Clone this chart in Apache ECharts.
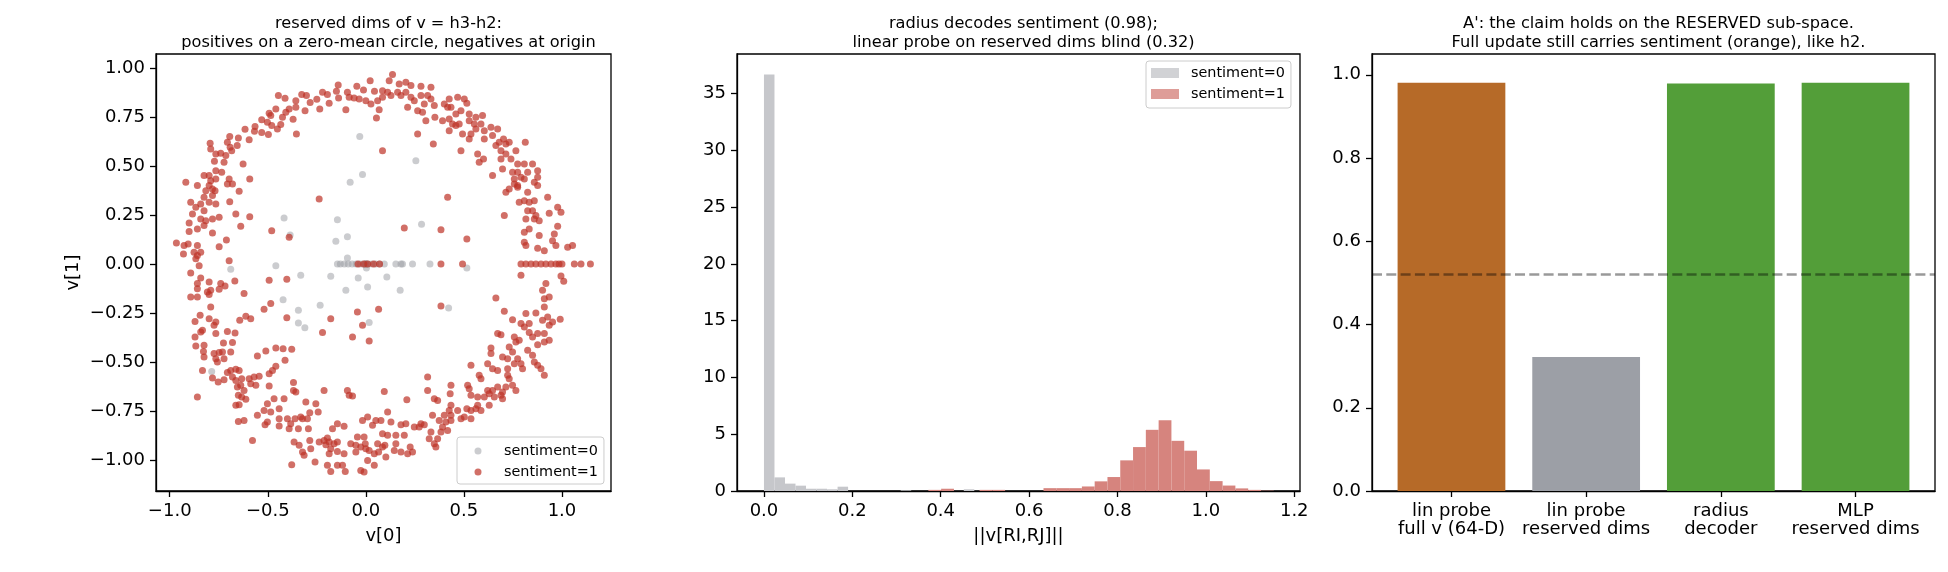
<!DOCTYPE html>
<html>
<head>
<meta charset="utf-8">
<title>reserved dims</title>
<script src="https://cdn.jsdelivr.net/npm/echarts@6.0.0/dist/echarts.min.js"></script>
<style>
  html, body { margin: 0; padding: 0; background: #fff; }
  #chart { width: 1948px; height: 572px; }
</style>
</head>
<body>
<div id="chart"></div>
<script>
// ---- panel 1: scatter of the two reserved dims ----
const posUpperLeft = [
  [-0.446,0.859],[-0.412,0.845],[-0.327,0.864],[-0.303,0.859],[-0.357,0.833],[-0.284,0.823],[-0.25,0.84],[-0.221,0.876],
  [-0.196,0.864],[-0.187,0.82],[-0.141,0.913],[-0.15,0.881],[-0.139,0.847],[-0.094,0.876],[-0.085,0.85],[-0.046,0.906],
  [-0.012,0.888],[0.022,0.935],[0.044,0.881],[-0.034,0.842],[0,0.833],[0.026,0.816],[0.06,0.833],[0.085,0.85],
  [-0.102,0.787],[0.054,0.745],[0.068,0.786],[-0.06,0.847],[-0.235,0.791],[-0.31,0.782],[-0.357,0.799],[-0.391,0.791],
  [-0.408,0.774],[-0.459,0.791],[-0.493,0.769],[-0.485,0.757],[-0.425,0.748],[-0.371,0.738],[-0.531,0.735],[-0.502,0.723],
  [-0.48,0.706],[-0.434,0.711],[-0.451,0.689],[-0.565,0.701],[-0.568,0.677],[-0.531,0.67],[-0.497,0.66],[-0.616,0.687],
  [-0.595,0.633],[-0.65,0.643],[-0.656,0.604],[-0.694,0.65],[-0.706,0.621],[-0.692,0.595],[-0.684,0.578],[-0.714,0.553],
  [-0.74,0.565],[-0.765,0.561],[-0.794,0.616],[-0.791,0.587],[-0.772,0.524],[-0.723,0.519],[-0.626,0.51],[-0.354,0.663],
  [-0.735,0.468],[-0.765,0.476],[-0.799,0.451],[-0.825,0.451],[-0.791,0.425],[-0.765,0.434],[-0.697,0.434],[-0.706,0.408],
  [-0.68,0.408],[-0.592,0.434],[-0.646,0.371],[-0.918,0.417],[-0.859,0.4],[-0.799,0.4],[-0.816,0.374],[-0.782,0.383],
  [-0.769,0.374],[-0.825,0.34],[-0.782,0.349],[-0.893,0.315],[-0.867,0.289],[-0.842,0.306],[-0.799,0.315],[-0.765,0.306],
  [-0.825,0.272],[-0.884,0.255],[-0.842,0.23],[-0.782,0.23],[-0.748,0.238],[-0.901,0.209],[-0.859,0.179],[-0.825,0.196],
  [-0.816,0.221],[-0.782,0.158],[-0.694,0.318],[-0.663,0.255],[-0.638,0.192],[-0.592,0.241],[-0.901,0.165],[-0.966,0.107],
  [-0.927,0.094],[-0.906,0.102],[-0.859,0.094],[-0.93,0.051],[-0.876,0.06],[-0.859,0.043],[-0.842,0.06],[-0.867,0.026],
  [-0.85,-0.009],[-0.748,0.088],[-0.711,0.122],[-0.697,0.017],[-0.48,0.17],[-0.391,0.136],[-0.238,0.332],[0.085,0.578]
];
const posUpperRight = [
  [0.136,0.966],[0.119,0.935],[0.17,0.918],[0.204,0.927],[0.23,0.91],[0.281,0.906],[0.332,0.901],[0.085,0.884],
  [0.111,0.876],[0.128,0.859],[0.162,0.876],[0.179,0.859],[0.204,0.876],[0.23,0.85],[0.247,0.833],[0.213,0.799],
  [0.264,0.782],[0.289,0.774],[0.281,0.859],[0.315,0.859],[0.332,0.842],[0.349,0.808],[0.298,0.816],[0.4,0.816],
  [0.425,0.842],[0.468,0.85],[0.502,0.842],[0.515,0.82],[0.417,0.799],[0.434,0.799],[0.485,0.782],[0.459,0.765],
  [0.352,0.748],[0.391,0.731],[0.306,0.731],[0.425,0.74],[0.442,0.714],[0.476,0.714],[0.527,0.765],[0.561,0.748],
  [0.587,0.714],[0.595,0.757],[0.527,0.731],[0.553,0.714],[0.425,0.68],[0.459,0.706],[0.493,0.663],[0.536,0.663],
  [0.527,0.638],[0.561,0.689],[0.604,0.68],[0.638,0.697],[0.672,0.689],[0.604,0.638],[0.264,0.663],[0.344,0.612],
  [0.485,0.578],[0.646,0.655],[0.68,0.621],[0.702,0.638],[0.714,0.612],[0.731,0.621],[0.663,0.604],[0.689,0.578],
  [0.714,0.561],[0.765,0.578],[0.57,0.561],[0.6,0.536],[0.578,0.519],[0.689,0.536],[0.74,0.536],[0.774,0.51],
  [0.808,0.51],[0.85,0.51],[0.697,0.485],[0.646,0.451],[0.748,0.468],[0.774,0.468],[0.825,0.468],[0.876,0.476],
  [0.876,0.442],[0.757,0.434],[0.791,0.442],[0.808,0.434],[0.859,0.417],[0.876,0.4],[0.757,0.408],[0.774,0.4],
  [0.731,0.383],[0.714,0.366],[0.774,0.391],[0.825,0.366],[0.808,0.323],[0.782,0.315],[0.833,0.315],[0.859,0.323],
  [0.927,0.34],[0.825,0.272],[0.85,0.272],[0.867,0.247],[0.884,0.221],[0.859,0.23],[0.935,0.259],[0.978,0.289],
  [0.995,0.264],[0.816,0.23],[0.808,0.162],[0.833,0.179],[0.884,0.145],[0.978,0.192],[0.961,0.153],[0.952,0.119],
  [0.969,0.094],[1.029,0.085],[1.054,0.094],[0.808,0.111],[0.816,0.094],[0.876,0.08],[0.91,0.068],[0.706,0.247],
  [0.417,0.34],[0.196,0.184],[0.383,0.175],[0.515,0.128],[0.813,0.621]
];
const posLowerLeft = [
  [-0.893,-0.046],[-0.842,-0.071],[-0.859,-0.1],[-0.799,-0.092],[-0.74,-0.1],[-0.718,-0.112],[-0.668,-0.087],[-0.859,-0.126],
  [-0.893,-0.168],[-0.859,-0.168],[-0.808,-0.143],[-0.791,-0.134],[-0.799,-0.156],[-0.748,-0.129],[-0.621,-0.151],[-0.493,-0.083],
  [-0.403,-0.078],[-0.791,-0.219],[-0.845,-0.262],[-0.871,-0.293],[-0.799,-0.279],[-0.765,-0.296],[-0.774,-0.313],[-0.833,-0.338],
  [-0.842,-0.347],[-0.765,-0.355],[-0.706,-0.344],[-0.667,-0.352],[-0.871,-0.372],[-0.825,-0.415],[-0.726,-0.403],[-0.68,-0.401],
  [-0.867,-0.418],[-0.828,-0.446],[-0.825,-0.474],[-0.774,-0.457],[-0.748,-0.452],[-0.731,-0.449],[-0.689,-0.449],[-0.765,-0.483],
  [-0.757,-0.5],[-0.723,-0.483],[-0.643,-0.287],[-0.612,-0.267],[-0.587,-0.279],[-0.485,-0.202],[-0.519,-0.231],[-0.403,-0.274],
  [-0.553,-0.469],[-0.51,-0.444],[-0.459,-0.429],[-0.422,-0.432],[-0.378,-0.435],[-0.412,-0.491],[-0.833,-0.543],[-0.782,-0.582],
  [-0.753,-0.602],[-0.723,-0.59],[-0.706,-0.554],[-0.689,-0.543],[-0.663,-0.537],[-0.646,-0.543],[-0.68,-0.577],[-0.663,-0.594],
  [-0.633,-0.585],[-0.595,-0.585],[-0.57,-0.577],[-0.544,-0.573],[-0.493,-0.56],[-0.476,-0.543],[-0.459,-0.522],[-0.655,-0.628],
  [-0.638,-0.619],[-0.621,-0.645],[-0.65,-0.67],[-0.633,-0.679],[-0.612,-0.69],[-0.663,-0.721],[-0.646,-0.718],[-0.587,-0.611],
  [-0.561,-0.619],[-0.493,-0.622],[-0.859,-0.679],[-0.369,-0.605],[-0.369,-0.645],[-0.357,-0.653],[-0.468,-0.687],[-0.417,-0.687],
  [-0.502,-0.713],[-0.519,-0.747],[-0.485,-0.755],[-0.442,-0.738],[-0.553,-0.772],[-0.65,-0.803],[-0.621,-0.798],[-0.578,-0.9],
  [-0.514,-0.82],[-0.502,-0.806],[-0.442,-0.789],[-0.442,-0.827],[-0.4,-0.789],[-0.391,-0.84],[-0.383,-0.815],[-0.361,-0.789],
  [-0.332,-0.781],[-0.323,-0.789],[-0.306,-0.704],[-0.286,-0.759],[-0.255,-0.713],[-0.243,-0.755],[-0.298,-0.789],[-0.344,-0.84],
  [-0.293,-0.84],[-0.213,-0.645],[-0.094,-0.645],[-0.085,-0.67],[-0.068,-0.673],[-0.145,-0.815],[-0.111,-0.828],[-0.17,-0.84],
  [-0.366,-0.908],[-0.34,-0.925],[-0.323,-0.959],[-0.315,-0.976],[-0.281,-0.942],[-0.259,-1.01],[-0.286,-0.9],[-0.238,-0.908],
  [-0.213,-0.9],[-0.204,-0.922],[-0.196,-0.888],[-0.187,-0.908],[-0.179,-0.942],[-0.162,-0.917],[-0.145,-0.908],[-0.187,-0.968],
  [-0.145,-0.956],[-0.145,-1.027],[-0.196,-1.027],[-0.179,-1.058],[-0.119,-1.027],[-0.105,-1.058],[-0.111,-0.968],[-0.077,-0.917],
  [-0.051,-0.925],[-0.043,-0.883],[-0.009,-0.883],[-0.017,-0.798],[0.009,-0.781],[0.034,-0.823],[0.051,-0.798],[0.077,-0.798],
  [0.085,-0.866],[-0.003,-0.917],[-0.026,-0.934],[0,-0.942],[0.017,-0.951],[0.043,-0.968],[0.06,-0.917],[0.085,-0.934],
  [0.065,-0.959],[-0.051,-0.959],[0.009,-1.002],[0.043,-1.027],[-0.026,-1.053],[-0.009,-1.061],[-0.378,-1.024],[0.094,-0.65],
  [-0.043,-0.245],[-0.017,-0.313],[0.017,-0.393],[-0.068,-0.372],[-0.179,-0.279],[-0.221,-0.35],[0.065,-0.231]
];
const posLowerRight = [
  [0.791,-0.058],[0.995,-0.061],[1.009,-0.088],[0.918,-0.1],[0.901,-0.134],[0.935,-0.168],[0.91,-0.177],[0.663,-0.173],
  [0.383,-0.214],[0.706,-0.241],[0.816,-0.253],[0.867,-0.25],[0.91,-0.219],[0.748,-0.284],[0.791,-0.304],[0.901,-0.287],
  [0.927,-0.27],[0.952,-0.296],[0.991,-0.282],[0.935,-0.313],[0.833,-0.304],[0.808,-0.321],[0.672,-0.355],[0.689,-0.361],
  [0.833,-0.35],[0.876,-0.355],[0.91,-0.355],[0.757,-0.372],[0.765,-0.398],[0.782,-0.389],[0.85,-0.372],[0.935,-0.389],
  [0.91,-0.398],[0.638,-0.429],[0.731,-0.423],[0.876,-0.412],[0.825,-0.44],[0.638,-0.457],[0.697,-0.474],[0.748,-0.449],
  [0.723,-0.483],[0.774,-0.483],[0.791,-0.509],[0.757,-0.509],[0.85,-0.466],[0.859,-0.5],[0.876,-0.517],[0.893,-0.534],
  [0.91,-0.568],[0.799,-0.534],[0.621,-0.509],[0.646,-0.534],[0.672,-0.543],[0.723,-0.534],[0.536,-0.517],[0.578,-0.568],
  [0.587,-0.585],[0.723,-0.568],[0.731,-0.585],[0.748,-0.619],[0.765,-0.645],[0.714,-0.628],[0.697,-0.653],[0.672,-0.628],
  [0.646,-0.645],[0.621,-0.645],[0.629,-0.662],[0.655,-0.679],[0.689,-0.67],[0.697,-0.687],[0.604,-0.679],[0.57,-0.679],
  [0.536,-0.67],[0.527,-0.636],[0.519,-0.619],[0.434,-0.619],[0.43,-0.662],[0.561,-0.738],[0.587,-0.747],[0.57,-0.721],
  [0.629,-0.721],[0.536,-0.747],[0.515,-0.738],[0.502,-0.781],[0.536,-0.789],[0.485,-0.789],[0.468,-0.747],[0.434,-0.721],
  [0.425,-0.747],[0.434,-0.772],[0.4,-0.772],[0.408,-0.806],[0.434,-0.798],[0.417,-0.849],[0.391,-0.832],[0.374,-0.798],
  [0.366,-0.696],[0.349,-0.687],[0.315,-0.577],[0.315,-0.645],[0.209,-0.692],[0.111,-0.755],[0.128,-0.806],[0.179,-0.82],
  [0.204,-0.815],[0.196,-0.874],[0.153,-0.874],[0.111,-0.874],[0.097,-0.925],[0.153,-0.917],[0.179,-0.959],[0.213,-0.968],
  [0.238,-0.959],[0.247,-0.832],[0.272,-0.832],[0.281,-0.815],[0.298,-0.82],[0.332,-0.857],[0.323,-0.891],[0.366,-0.891],
  [0.349,-0.917],[0.357,-0.934],[0.383,-0.857],[0.102,-0.985],[0.145,-0.951],[0.226,-0.934],[0.34,-0.772]
];
const posOnAxis = [
  [-0.04,0],[-0.01,0],[0.01,0],[0.04,0],[0.07,0],[0.383,0],[0.493,0],[0.791,0],[0.816,0],[0.842,0],[0.867,0],
  [0.893,0],[0.918,0],[0.944,0],[0.969,0],[0.985,0],[1.0,0],[1.063,0],[1.097,0],[1.145,0]
];
const negOffAxis = [
  [-0.031,0.65],[-0.08,0.417],[-0.017,0.456],[-0.417,0.235],[-0.145,0.226],[-0.094,0.139],[-0.153,0.116],[-0.386,0.148],
  [-0.459,-0.009],[-0.094,0.031],[0.255,0.526],[0.284,0.202],[-0.689,-0.027],[-0.332,-0.058],[-0.179,-0.063],[-0.039,-0.071],
  [0.009,-0.117],[-0.102,-0.134],[-0.422,-0.182],[-0.233,-0.211],[-0.344,-0.236],[-0.344,-0.301],[-0.311,-0.325],[0.017,-0.298],
  [-0.786,-0.548],[0.107,-0.066],[0.175,-0.134],[0.422,-0.224],[0.515,-0.02],[0.003,-0.02]
];
const negOnAxis = [
  [-0.145,0],[-0.13,0],[-0.11,0],[-0.09,0],[-0.07,0],[-0.05,0],[-0.03,0],[-0.015,0],[0,0],[0,0],[0,0],[0,0],
  [0.01,0],[0.03,0],[0.05,0],[0.07,0],[0.094,0],[0.153,0],[0.179,0],[0.187,0],[0.238,0],[0.327,0]
];
const scatterXTicks = [-1.0, -0.5, 0.0, 0.5, 1.0];
const scatterYTicks = [-1.0, -0.75, -0.5, -0.25, 0.0, 0.25, 0.5, 0.75, 1.0];

// ---- panel 2: density histograms of ||v[RI,RJ]|| ----
const grayBinStart = 0.0, grayBinWidth = 0.0238;
const grayDensity = [36.7, 1.2, 0.65, 0.47, 0.2, 0.2, 0.15, 0.38, 0, 0, 0, 0, 0, 0.06, 0, 0, 0, 0, 0, 0.15];
const redBinStart = 0.372, redBinWidth = 0.02895;
const redDensity = [0.1, 0.2, 0, 0, 0.1, 0.1, 0, 0, 0, 0.25, 0.25, 0.25, 0.4, 0.85, 1.23, 2.7, 3.87,
                    5.39, 6.23, 4.42, 3.55, 1.9, 0.87, 0.48, 0.23, 0.1, 0.03];
const histXTicks = [0.0, 0.2, 0.4, 0.6, 0.8, 1.0, 1.2];
const histYTicks = [0, 5, 10, 15, 20, 25, 30, 35];

// ---- panel 3: decoder accuracies ----
const barLabels = ['lin probe\nfull v (64-D)', 'lin probe\nreserved dims', 'radius\ndecoder', 'MLP\nreserved dims'];
const barValues = [0.981, 0.322, 0.979, 0.981];
const barColors = ['#b66a28', '#9c9fa6', '#539e39', '#539e39'];
const chanceLevel = 0.52;
const barYTicks = [0.0, 0.2, 0.4, 0.6, 0.8, 1.0];

const FONT = 'DejaVu Sans';
const redPt = 'rgba(190,50,38,0.88)';
const grayPt = 'rgba(155,157,163,0.65)';

function fmt(v, d) {
  const s = Math.abs(v).toFixed(d);
  return v < 0 ? '\u2212' + s : s;
}

function valueAxis(gridIndex, min, max, ticks, formatter, extra) {
  return Object.assign({
    gridIndex: gridIndex, type: 'value', min: min, max: max,
    axisLine: { show: true, onZero: false, lineStyle: { color: '#000', width: 1.3 } },
    axisTick: { show: true, length: 6, customValues: ticks, lineStyle: { color: '#000', width: 1.3 } },
    axisLabel: { customValues: ticks, formatter: formatter, margin: 11, fontSize: 18, color: '#000', fontFamily: FONT },
    splitLine: { show: false },
    nameTextStyle: { fontSize: 18, color: '#000', fontFamily: FONT }
  }, extra || {});
}

// histogram bins -> [left edge, right edge, density]
function bins(start, width, dens) {
  return dens.map((d, i) => [start + i * width, start + (i + 1) * width, d]);
}

function histRender(color) {
  return function (params, api) {
    const p0 = api.coord([api.value(0), api.value(2)]);
    const p1 = api.coord([api.value(1), 0]);
    return { type: 'rect', shape: { x: p0[0], y: p0[1], width: p1[0] - p0[0], height: p1[1] - p0[1] }, style: { fill: color } };
  };
}

const chart = echarts.init(document.getElementById('chart'));
const titleStyle = { fontSize: 16.2, fontWeight: 'normal', color: '#000', fontFamily: FONT, lineHeight: 19.5 };

chart.setOption({
  animation: false,
  backgroundColor: '#fff',
  textStyle: { fontFamily: FONT, color: '#000' },
  title: [
    { text: 'reserved dims of v = h3-h2:\npositives on a zero-mean circle, negatives at origin', left: 383.5, top: 9, textAlign: 'center', textStyle: titleStyle },
    { text: 'radius decodes sentiment (0.98);\nlinear probe on reserved dims blind (0.32)', left: 1018.5, top: 9, textAlign: 'center', textStyle: titleStyle },
    { text: "A': the claim holds on the RESERVED sub-space.\nFull update still carries sentiment (orange), like h2.", left: 1653.5, top: 9, textAlign: 'center', textStyle: titleStyle }
  ],
  grid: [
    { left: 156, top: 54, width: 455, height: 437, show: true, borderColor: '#000', borderWidth: 1.3 },
    { left: 737, top: 54, width: 563, height: 437, show: true, borderColor: '#000', borderWidth: 1.3 },
    { left: 1372, top: 54, width: 563, height: 437, show: true, borderColor: '#000', borderWidth: 1.3 }
  ],
  xAxis: [
    valueAxis(0, -1.07, 1.25, scatterXTicks, v => fmt(v, 1), { name: 'v[0]', nameLocation: 'middle', nameGap: 36 }),
    valueAxis(1, -0.061, 1.213, histXTicks, v => v.toFixed(1), { name: '||v[RI,RJ]||', nameLocation: 'middle', nameGap: 36 }),
    valueAxis(2, -0.59, 3.59, [0, 1, 2, 3], v => barLabels[Math.round(v)], {})
  ],
  yAxis: [
    valueAxis(0, -1.158, 1.071, scatterYTicks, v => fmt(v, 2), { name: 'v[1]', nameLocation: 'middle', nameGap: 74 }),
    valueAxis(1, 0, 38.5, histYTicks, v => String(v), {}),
    valueAxis(2, 0, 1.05, barYTicks, v => v.toFixed(1), {})
  ],
  legend: [
    {
      data: [{ name: 'sentiment=0', itemStyle: { color: grayPt } }, { name: 'sentiment=1', itemStyle: { color: redPt } }],
      icon: 'circle', orient: 'vertical', left: 457, top: 437,
      itemWidth: 7, itemHeight: 7, itemGap: 7, padding: [7, 6, 5, 17.5],
      textStyle: { fontSize: 14.4, color: '#000', fontFamily: FONT, lineHeight: 14, padding: [0, 0, 0, 17.5] },
      backgroundColor: 'rgba(255,255,255,0.8)', borderColor: '#cccccc', borderWidth: 1, borderRadius: 3,
      selectedMode: false
    },
    {
      data: [{ name: 'sentiment=0', itemStyle: { color: '#c6c7cb' } }, { name: 'sentiment=1', itemStyle: { color: '#d6847e' } }],
      icon: 'rect', orient: 'vertical', left: 1146, top: 61,
      itemWidth: 28, itemHeight: 10, itemGap: 7, padding: [5, 6, 7, 5],
      textStyle: { fontSize: 14.4, color: '#000', fontFamily: FONT, lineHeight: 14, padding: [0, 0, 0, 7] },
      backgroundColor: 'rgba(255,255,255,0.8)', borderColor: '#cccccc', borderWidth: 1, borderRadius: 3,
      selectedMode: false
    }
  ],
  series: [
    {
      name: 'sentiment=0', type: 'scatter', xAxisIndex: 0, yAxisIndex: 0, symbolSize: 7,
      itemStyle: { color: grayPt }, data: negOffAxis.concat(negOnAxis)
    },
    {
      name: 'sentiment=1', type: 'scatter', xAxisIndex: 0, yAxisIndex: 0, symbolSize: 7,
      itemStyle: { color: redPt },
      data: posUpperLeft.concat(posUpperRight, posLowerLeft, posLowerRight, posOnAxis)
    },
    {
      name: 'sentiment=0', type: 'custom', xAxisIndex: 1, yAxisIndex: 1,
      renderItem: histRender('#c6c7cb'), encode: { x: [0, 1], y: 2 },
      data: bins(grayBinStart, grayBinWidth, grayDensity)
    },
    {
      name: 'sentiment=1', type: 'custom', xAxisIndex: 1, yAxisIndex: 1,
      renderItem: histRender('#d6847e'), encode: { x: [0, 1], y: 2 },
      data: bins(redBinStart, redBinWidth, redDensity)
    },
    {
      name: 'accuracy', type: 'custom', xAxisIndex: 2, yAxisIndex: 2,
      encode: { x: 0, y: 1 },
      data: barValues.map((v, i) => [i, v]),
      renderItem: function (params, api) {
        const i = api.value(0);
        const p0 = api.coord([i - 0.4, api.value(1)]);
        const p1 = api.coord([i + 0.4, 0]);
        return { type: 'rect', shape: { x: p0[0], y: p0[1], width: p1[0] - p0[0], height: p1[1] - p0[1] }, style: { fill: barColors[i] } };
      },
      markLine: {
        silent: true, symbol: 'none', label: { show: false },
        lineStyle: { color: 'rgba(0,0,0,0.4)', width: 2.5, type: [10, 4.3] },
        data: [{ yAxis: chanceLevel }]
      }
    }
  ]
});
</script>
</body>
</html>
